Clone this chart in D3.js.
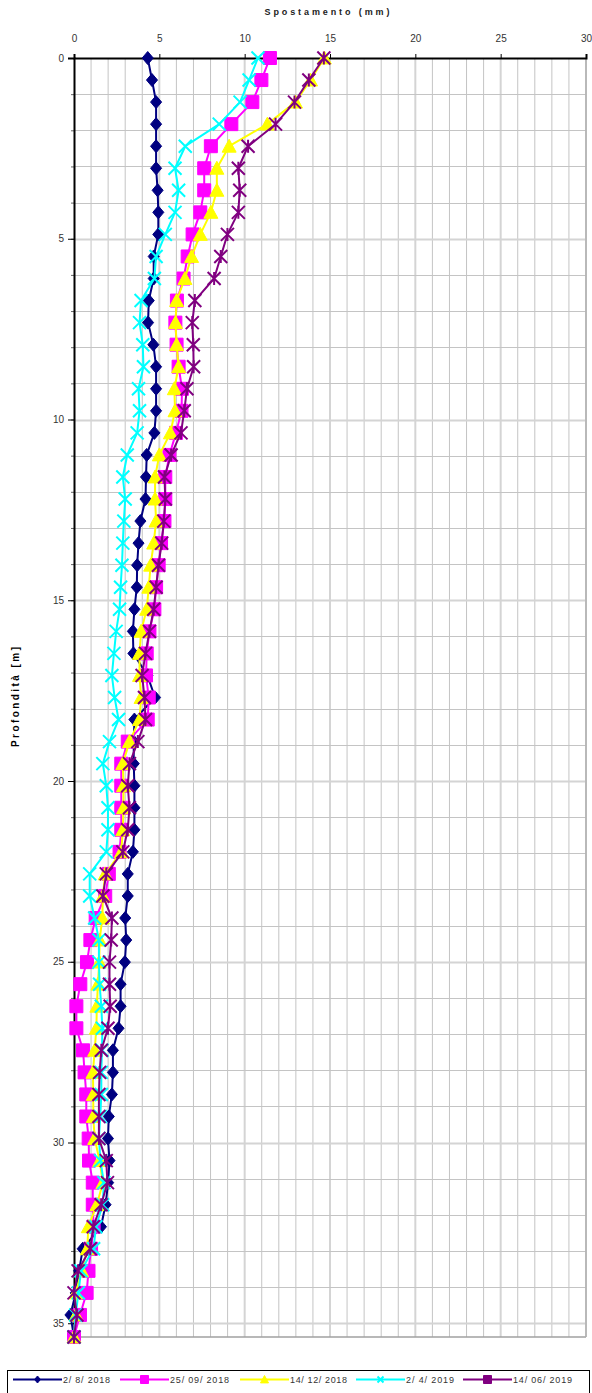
<!DOCTYPE html>
<html>
<head>
<meta charset="utf-8">
<script src="https://cdn.jsdelivr.net/npm/d3@7"></script>
<style>
html,body{margin:0;padding:0;background:#fff;}
svg{display:block;font-family:"Liberation Sans",Arial,sans-serif;}
</style>
</head>
<body>
<svg id="chart" width="592" height="1393"></svg>
<script>
const depths = [0, 0.61, 1.22, 1.83, 2.44, 3.05, 3.66, 4.27, 4.88, 5.49, 6.1, 6.71, 7.32, 7.93, 8.54, 9.15, 9.76, 10.37, 10.98, 11.59, 12.2, 12.81, 13.42, 14.03, 14.64, 15.25, 15.86, 16.47, 17.08, 17.69, 18.3, 18.91, 19.52, 20.13, 20.74, 21.35, 21.96, 22.57, 23.18, 23.79, 24.4, 25.01, 25.62, 26.23, 26.84, 27.45, 28.06, 28.67, 29.28, 29.89, 30.5, 31.11, 31.72, 32.33, 32.94, 33.55, 34.16, 34.77, 35.38];

const s_2_8_2018 = [4.32, 4.57, 4.81, 4.81, 4.81, 4.81, 4.90, 4.94, 4.94, 4.67, 4.67, 4.38, 4.34, 4.65, 4.81, 4.81, 4.81, 4.71, 4.26, 4.22, 4.19, 3.89, 3.78, 3.70, 3.68, 3.54, 3.45, 3.48, 4.30, 4.75, 3.54, 3.50, 3.50, 3.54, 3.54, 3.54, 3.45, 3.15, 3.15, 3.00, 3.06, 2.98, 2.73, 2.73, 2.61, 2.28, 2.28, 2.22, 2.04, 1.99, 2.08, 2.00, 1.85, 1.58, 0.51, 0.30, 0.10, -0.21, 0];
const s_25_09_2018 = [11.48, 10.98, 10.45, 9.22, 8.02, 7.63, 7.63, 7.40, 6.95, 6.66, 6.42, 6.03, 5.94, 6.01, 6.13, 6.33, 6.30, 5.98, 5.59, 5.35, 5.35, 5.30, 5.10, 4.96, 4.81, 4.71, 4.42, 4.26, 4.22, 4.38, 4.32, 3.15, 2.77, 2.77, 2.77, 2.77, 2.67, 2.04, 1.83, 1.27, 0.96, 0.76, 0.37, 0.14, 0.14, 0.53, 0.62, 0.72, 0.72, 0.86, 0.88, 1.10, 1.10, 1.15, 1.00, 0.85, 0.74, 0.35, 0];
const s_14_12_2018 = [14.67, 13.86, 12.98, 11.33, 9.09, 8.37, 8.37, 8.02, 7.40, 6.89, 6.50, 6.01, 5.95, 6.01, 6.13, 5.88, 5.92, 5.65, 5.00, 4.75, 4.75, 4.81, 4.67, 4.49, 4.38, 4.26, 3.93, 3.84, 3.84, 3.93, 3.84, 3.25, 2.86, 2.90, 2.90, 2.86, 2.77, 1.83, 1.69, 1.66, 1.50, 1.48, 1.40, 1.34, 1.31, 1.21, 1.11, 1.13, 1.13, 1.21, 1.50, 1.69, 1.34, 0.84, 0.78, 0.45, 0.10, 0.12, 0];
const s_2_4_2019 = [10.78, 10.26, 9.73, 8.51, 6.52, 5.92, 6.13, 5.92, 5.35, 4.81, 4.71, 3.93, 3.84, 4.03, 4.07, 3.78, 3.84, 3.70, 3.12, 2.86, 3.00, 2.92, 2.86, 2.81, 2.73, 2.67, 2.47, 2.34, 2.22, 2.38, 2.61, 2.08, 1.69, 1.89, 1.99, 1.99, 1.89, 0.92, 0.92, 1.21, 1.46, 1.46, 1.50, 1.60, 1.66, 1.64, 1.60, 1.60, 1.54, 1.46, 1.55, 1.75, 1.68, 1.28, 1.15, 0.41, 0.26, 0.10, 0];
const s_14_06_2019 = [14.64, 13.76, 12.92, 11.81, 10.20, 9.63, 9.71, 9.63, 8.99, 8.60, 8.21, 7.08, 6.93, 6.99, 7.01, 6.62, 6.46, 6.27, 5.69, 5.30, 5.35, 5.26, 5.14, 4.95, 4.81, 4.67, 4.42, 4.19, 3.99, 4.13, 4.19, 3.74, 3.25, 3.15, 3.25, 3.15, 2.86, 1.89, 1.69, 2.22, 2.18, 2.08, 2.08, 2.12, 1.99, 1.60, 1.50, 1.46, 1.46, 1.46, 1.89, 1.96, 1.59, 1.13, 0.95, 0.24, 0.00, 0.17, 0];

const seriesNames = ["2/ 8/ 2018", "25/ 09/ 2018", "14/ 12/ 2018", "2/ 4/ 2019", "14/ 06/ 2019"];
const seriesValues = [s_2_8_2018, s_25_09_2018, s_14_12_2018, s_2_4_2019, s_14_06_2019];
const seriesColors = ["#000080", "#FF00FF", "#FFFF00", "#00FFFF", "#800080"];
const seriesMarkers = ["diamond", "square", "triangle", "cross", "star"];
const xTicks = [0, 5, 10, 15, 20, 25, 30];
const yTicks = [0, 5, 10, 15, 20, 25, 30, 35];
const xTitle = "Spostamento (mm)";
const yTitle = "Profondità [m]";

const svg = d3.select("#chart");
const x = d3.scaleLinear().domain([0, 30]).range([74, 586]);
const y = d3.scaleLinear().domain([0, 35.38]).range([58, 1337]);

// background gridlines
const g = svg.append("g");
const xMinor = d3.range(1, 31);
const yMinor = d3.range(1, 36);
g.selectAll(".vg").data(xMinor).join("line")
  .attr("x1", d => x(d)).attr("x2", d => x(d))
  .attr("y1", y(0)).attr("y2", y(35.38))
  .attr("stroke", d => d % 5 === 0 ? "#d4d4d4" : "#c4c4c4")
  .attr("stroke-width", d => d % 5 === 0 ? 2 : 1);
g.selectAll(".hg").data(yMinor).join("line")
  .attr("y1", d => Math.round(y(d)) + 0.5).attr("y2", d => Math.round(y(d)) + 0.5)
  .attr("x1", x(0)).attr("x2", x(30))
  .attr("stroke", d => d % 5 === 0 ? "#d4d4d4" : "#c4c4c4")
  .attr("stroke-width", d => d % 5 === 0 ? 2 : 1);
// bottom & right frame
g.append("line").attr("x1", x(0)).attr("x2", x(30)).attr("y1", y(35.38)).attr("y2", y(35.38)).attr("stroke", "#a0a0a0").attr("stroke-width", 1.5);
g.append("line").attr("x1", x(30)).attr("x2", x(30)).attr("y1", y(0)).attr("y2", y(35.38)).attr("stroke", "#b0b0b0").attr("stroke-width", 1.5);

// axes
const xAxis = d3.axisTop(x).tickValues(xTicks).tickSize(4).tickPadding(12).tickFormat(d3.format("d"));
const xa = svg.append("g").attr("transform", `translate(0,${y(0)})`).call(xAxis);
xa.select(".domain").attr("stroke", "#000").attr("stroke-width", 2);
xa.selectAll(".tick line").attr("stroke", "#000");
xa.selectAll("text").attr("font-size", 10).attr("fill", "#333").attr("font-family", "Liberation Sans, Arial, sans-serif");

const yAxisMinor = d3.axisLeft(y).tickValues(yMinor).tickSize(3).tickFormat("");
const yam = svg.append("g").attr("transform", `translate(${x(0)},0)`).call(yAxisMinor);
yam.select(".domain").remove();
yam.selectAll(".tick line").attr("stroke", "#666");

const yAxis = d3.axisLeft(y).tickValues(yTicks).tickSize(6).tickPadding(4).tickFormat(d3.format("d"));
const ya = svg.append("g").attr("transform", `translate(${x(0)},0)`).call(yAxis);
ya.select(".domain").attr("stroke", "#000").attr("stroke-width", 2);
ya.selectAll(".tick line").attr("stroke", "#000");
ya.selectAll("text").attr("font-size", 10).attr("fill", "#333").attr("font-family", "Liberation Sans, Arial, sans-serif");

// titles
svg.append("text").attr("x", 327).attr("y", 15).attr("text-anchor", "middle")
  .attr("font-size", 9).attr("font-weight", "bold").attr("fill", "#222")
  .attr("textLength", 125).attr("lengthAdjust", "spacing").text(xTitle);
svg.append("text").attr("transform", "translate(19,697) rotate(-90)").attr("text-anchor", "middle")
  .attr("font-size", 10).attr("font-weight", "bold").attr("fill", "#000")
  .attr("textLength", 100).attr("lengthAdjust", "spacing").text(yTitle);

// marker paths
function markerPath(type, s) {
  const h = s / 2;
  switch (type) {
    case "diamond": return `M0,${-h} L${h * 0.85},0 L0,${h} L${-h * 0.85},0 Z`;
    case "square": return `M${-h},${-h} H${h} V${h} H${-h} Z`;
    case "triangle": return `M0,${-h} L${h},${h * 0.85} L${-h},${h * 0.85} Z`;
    case "cross": return `M${-h},${-h} L${h},${h} M${-h},${h} L${h},${-h}`;
    case "star": return `M${-h},${-h} L${h},${h} M${-h},${h} L${h},${-h} M0,${-h} L0,${h}`;
  }
}
const markerSize = {diamond: 13, square: 13, triangle: 14, cross: 13, star: 13};

const line = d3.line().x(d => x(d[0])).y(d => y(d[1]));

seriesValues.forEach((vals, i) => {
  const pts = vals.map((v, j) => [v, depths[j]]);
  const sg = svg.append("g");
  sg.append("path").datum(pts).attr("d", line).attr("fill", "none")
    .attr("stroke", seriesColors[i]).attr("stroke-width", 2).attr("stroke-linejoin", "round");
  const type = seriesMarkers[i];
  const filled = (type === "diamond" || type === "square" || type === "triangle");
  sg.selectAll("path.m").data(pts).join("path").attr("class", "m")
    .attr("transform", d => `translate(${x(d[0])},${y(d[1])})`)
    .attr("d", markerPath(type, markerSize[type]))
    .attr("fill", filled ? seriesColors[i] : "none")
    .attr("stroke", seriesColors[i])
    .attr("stroke-width", filled ? 1 : 2);
});

// legend
const lg = svg.append("g");
lg.append("rect").attr("x", 7.5).attr("y", 1370.5).attr("width", 582).attr("height", 40)
  .attr("fill", "#fff").attr("stroke", "#000").attr("stroke-width", 1);
const legX = [13, 120, 240, 356, 463];
const legMarkers = ["diamond", "square", "triangle", "cross", "square"];
const legSizes = [7, 8, 8, 6, 8];
const legTextLen = [47, 59, 57, 48, 59];
seriesNames.forEach((name, i) => {
  const x0 = legX[i];
  const ly = 1379.5;
  lg.append("line").attr("x1", x0).attr("x2", x0 + 49).attr("y1", ly).attr("y2", ly)
    .attr("stroke", seriesColors[i]).attr("stroke-width", 2);
  const t = legMarkers[i];
  const filled = t !== "cross";
  lg.append("path").attr("transform", `translate(${x0 + 24.5},${ly})`)
    .attr("d", markerPath(t, legSizes[i]))
    .attr("fill", filled ? seriesColors[i] : "none")
    .attr("stroke", seriesColors[i]).attr("stroke-width", filled ? 1 : 2);
  lg.append("text").attr("x", x0 + 50).attr("y", ly + 3.5)
    .attr("font-size", 9).attr("fill", "#333")
    .attr("textLength", legTextLen[i]).attr("lengthAdjust", "spacing").text(name);
});
</script>
</body>
</html>
